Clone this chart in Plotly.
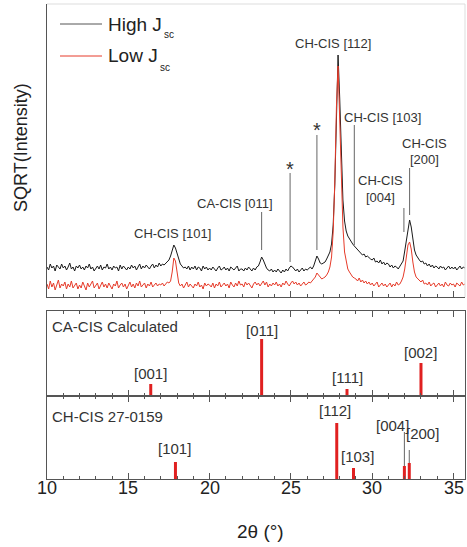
import plotly.graph_objects as go

# ---------------- data ----------------
two_theta = [round(10 + 0.1 * i, 1) for i in range(258)]  # 10.0 .. 35.7

high_jsc = [
    30, 27, 33, 29, 31, 26, 32, 30, 28, 33,
    29, 31, 27, 30, 34, 28, 30, 26, 31, 29,
    32, 28, 30, 27, 31, 29, 33, 28, 30, 26,
    29, 31, 28, 32, 27, 30, 29, 33, 28, 30,
    27, 31, 29, 30, 26, 32, 28, 31, 29, 27,
    30, 28, 32, 29, 31, 27, 30, 33, 28, 31,
    29, 32, 30, 28, 31, 33, 29, 32, 30, 34,
    31, 33, 32, 34, 35, 37, 41, 46, 52, 49,
    43, 37, 33, 31, 29, 30, 28, 31, 27, 30,
    28, 31, 27, 30, 29, 26, 31, 28, 30, 27,
    29, 27, 30, 28, 26, 29, 31, 27, 28, 30,
    27, 29, 26, 30, 28, 27, 29, 31, 26, 28,
    28, 26, 29, 27, 30, 28, 26, 29, 27, 30,
    31, 35, 40, 37, 32, 29, 27, 26, 28, 25,
    27, 25, 28, 26, 24, 27, 25, 28, 26, 29,
    31, 30, 28, 26, 28, 25, 27, 29, 26, 28,
    27, 29, 30, 28, 31, 36, 41, 38, 34, 33,
    34, 35, 38, 41, 45, 53, 72, 112, 180, 242,
    200, 138, 97, 76, 66, 61, 58, 55, 53, 51,
    49, 47, 46, 44, 42, 43, 40, 41, 39, 38,
    37, 39, 35, 36, 34, 37, 33, 35, 32, 34,
    33, 30, 32, 29, 31, 30, 28, 31, 33, 36,
    46, 57, 71, 77, 70, 58, 47, 42, 39, 37,
    35, 36, 33, 34, 31, 33, 30, 32, 29, 31,
    30, 28, 31, 29, 30, 27, 29, 31, 28, 30,
    28, 30, 27, 29, 31, 28, 30, 29,
]

low_jsc = [
    13, 8, 16, 10, 14, 7, 12, 17, 9, 13,
    11, 15, 8, 13, 10, 16, 9, 12, 14, 8,
    12, 9, 15, 11, 7, 14, 10, 13, 16, 9,
    11, 14, 8, 12, 15, 10, 13, 9, 14, 11,
    8, 13, 11, 16, 9, 12, 14, 10, 13, 8,
    12, 15, 10, 13, 9, 14, 11, 16, 10, 12,
    14, 9, 13, 11, 15, 10, 12, 14, 11, 13,
    12, 14, 11, 13, 15, 14, 16, 25, 39, 36,
    22, 14, 11, 13, 9, 12, 15, 10, 13, 11,
    9, 13, 11, 15, 10, 12, 8, 14, 11, 13,
    12, 10, 14, 9, 13, 11, 15, 10, 12, 14,
    11, 13, 9, 15, 12, 10, 14, 11, 16, 12,
    13, 10, 15, 12, 14, 11, 9, 13, 15, 12,
    14, 11, 13, 16, 12, 15, 10, 13, 11, 14,
    12, 15, 11, 13, 10, 14, 12, 16, 13, 11,
    14, 16, 13, 15, 12, 14, 11, 13, 15, 12,
    13, 15, 14, 16, 18, 20, 24, 22, 19, 18,
    19, 20, 22, 25, 30, 40, 65, 115, 190, 231,
    178, 112, 70, 45, 34, 28, 25, 22, 20, 19,
    18, 16, 19, 15, 17, 14, 16, 13, 15, 12,
    14, 11, 13, 15, 10, 12, 14, 11, 13, 10,
    12, 14, 10, 13, 11, 15, 12, 13, 16, 20,
    28, 40, 52, 55, 48, 35, 25, 20, 18, 17,
    15, 17, 13, 14, 12, 15, 11, 13, 14, 10,
    12, 14, 11, 13, 10, 15, 12, 11, 14, 12,
    13, 10, 14, 12, 11, 15, 12, 13,
]

# reference stick patterns
ca_pos = [16.38, 23.2, 28.45, 33.0]
ca_int = [12, 57, 7, 33]
ca_lab = ["[001]", "[011]", "[111]", "[002]"]

ch_pos = [17.9, 27.82, 28.85, 31.98, 32.28]
ch_int = [17, 56, 11, 13, 16]
ch_lab = ["[101]", "[112]", "[103]", "[004]", "[200]"]

x_ticks = [10, 15, 20, 25, 30, 35]

# ---------------- figure ----------------
W, H = 467, 547
ML, MR, MT, MB = 47, 2, 4, 68
PW, PH = W - ML - MR, H - MT - MB


def px_x(px):
    return (px - ML) / PW


def px_y(py):
    return (H - MB - py) / PH


RED = "#e63b2a"
STICK = "#e02020"
TXT = "#333333"
AX = "#555555"
FONT = "Liberation Sans, Arial, sans-serif"

fig = go.Figure()
fig.add_trace(go.Scatter(x=two_theta, y=high_jsc, mode="lines",
                         line=dict(color="#1a1a1a", width=1), xaxis="x", yaxis="y",
                         showlegend=False))
fig.add_trace(go.Scatter(x=two_theta, y=low_jsc, mode="lines",
                         line=dict(color=RED, width=1), xaxis="x", yaxis="y",
                         showlegend=False))


def sticks(pos, inten):
    xs, ys = [], []
    for p, h in zip(pos, inten):
        xs += [p, p, None]
        ys += [0, h, None]
    return xs, ys


sx, sy = sticks(ca_pos, ca_int)
fig.add_trace(go.Scatter(x=sx, y=sy, mode="lines", line=dict(color=STICK, width=3),
                         xaxis="x2", yaxis="y2", showlegend=False))
sx, sy = sticks(ch_pos, ch_int)
fig.add_trace(go.Scatter(x=sx, y=sy, mode="lines", line=dict(color=STICK, width=3),
                         xaxis="x3", yaxis="y3", showlegend=False))

XR = [10, 10 + PW / 16.26]
xcommon = dict(range=XR, tickvals=x_ticks, ticks="inside", ticklen=6, tickcolor=AX,
               minor=dict(ticks="inside", ticklen=3, dtick=1, tick0=10, tickcolor=AX),
               showline=True, linecolor=AX, linewidth=1, showgrid=False, zeroline=False,
               showticklabels=False)
ycommon = dict(showticklabels=False, ticks="", showline=True, linecolor=AX, linewidth=1,
               showgrid=False, zeroline=False)

d_top = [px_y(297), 1]
d_mid = [px_y(396), px_y(311)]
d_bot = [0, px_y(396)]

fig.update_layout(
    width=W, height=H, margin=dict(l=ML, r=MR, t=MT, b=MB),
    paper_bgcolor="white", plot_bgcolor="white",
    font=dict(family=FONT, color=TXT),
    showlegend=False,
    xaxis=dict(xcommon, anchor="y", mirror=False),
    yaxis=dict(ycommon, domain=d_top, range=[0, PH - (H - MB - 297)], mirror=False),
    xaxis2=dict(xcommon, anchor="y2", mirror="ticks", matches="x"),
    yaxis2=dict(ycommon, domain=d_mid, range=[0, 85], mirror=True),
    xaxis3=dict(xcommon, anchor="y3", mirror="ticks", matches="x"),
    yaxis3=dict(ycommon, domain=d_bot, range=[0, 83], mirror=True),
)

shapes = []
# faint top/right border of top panel
shapes.append(dict(type="line", xref="paper", yref="paper", x0=0, x1=1, y0=1, y1=1,
                   line=dict(color="#dddddd", width=1)))
shapes.append(dict(type="line", xref="paper", yref="paper", x0=1, x1=1, y0=d_top[0], y1=1,
                   line=dict(color="#dddddd", width=1)))

ann = []


def label(x, y, text, xref, yref, size=13, xanchor="center", yanchor="middle", color=TXT, **kw):
    ann.append(dict(x=x, y=y, text=text, xref=xref, yref=yref, showarrow=False,
                    xanchor=xanchor, yanchor=yanchor,
                    font=dict(size=size, color=color, family=FONT), **kw))


def vline(x, y0, y1, xref, yref):
    shapes.append(dict(type="line", xref=xref, yref=yref, x0=x, x1=x, y0=y0, y1=y1,
                       line=dict(color="#666666", width=1)))


# top panel peak markers
label(17.69, 64, "CH-CIS [101]", "x", "y")
label(21.56, 94, "CA-CIS [011]", "x", "y")
vline(23.2, 47, 85, "x", "y")
label(24.94, 128, "*", "x", "y", size=20)
vline(24.95, 35, 124, "x", "y")
label(26.6, 167, "*", "x", "y", size=20)
vline(26.6, 47, 162, "x", "y")
label(27.59, 254, "CH-CIS [112]", "x", "y")
label(30.66, 180, "CH-CIS [103]", "x", "y")
vline(28.9, 52, 172, "x", "y")
label(30.48, 117, "CH-CIS", "x", "y")
label(30.48, 100, "[004]", "x", "y")
vline(31.95, 65, 89, "x", "y")
label(33.19, 154, "CH-CIS", "x", "y")
label(33.19, 138, "[200]", "x", "y")
vline(32.3, 82, 129, "x", "y")

# legend (drawn manually)
for py, col, main, sub_x in [(24, "#555555", "High J", 162), (56, RED, "Low J", 158)]:
    shapes.append(dict(type="line", xref="paper", yref="paper", x0=px_x(60), x1=px_x(102),
                       y0=px_y(py), y1=px_y(py), line=dict(color=col, width=1)))
    label(px_x(106), px_y(py), main, "paper", "paper", size=19, xanchor="left",
          color="#222222")
    label(px_x(sub_x), px_y(py + 11), "sc", "paper", "paper", size=10, xanchor="left",
          color="#222222")

# middle panel
label(px_x(50), px_y(327), "CA-CIS Calculated", "paper", "paper", size=15, xanchor="left")
ca_lab_y = [23, 66, 19, 44]
for p, t, ly in zip(ca_pos, ca_lab, ca_lab_y):
    label(p, ly, t, "x2", "y2", size=15)

# bottom panel
label(px_x(50), px_y(416), "CH-CIS 27-0159", "paper", "paper", size=15, xanchor="left")
ch_lab_x = [17.87, 27.71, 29.07, 31.22, 33.12]
ch_lab_y = [31, 69, 23, 54, 46]
for t, lx, ly in zip(ch_lab, ch_lab_x, ch_lab_y):
    label(lx, ly, t, "x3", "y3", size=15)
vline(31.98, 13, 47, "x3", "y3")
vline(32.28, 16, 29, "x3", "y3")

# x tick labels (placed on the x3 data scale)
for t in x_ticks:
    label(t, px_y(488), str(t), "x3", "paper", size=18, color="#222222")

# axis titles
label(px_x(21), px_y(148), "SQRT(Intensity)", "paper", "paper", size=18, textangle=-90,
      color="#222222")
label(px_x(260), px_y(531), "2θ (°)", "paper", "paper", size=19, color="#222222")

fig.update_layout(shapes=shapes, annotations=ann)
fig.write_html("out.html")
